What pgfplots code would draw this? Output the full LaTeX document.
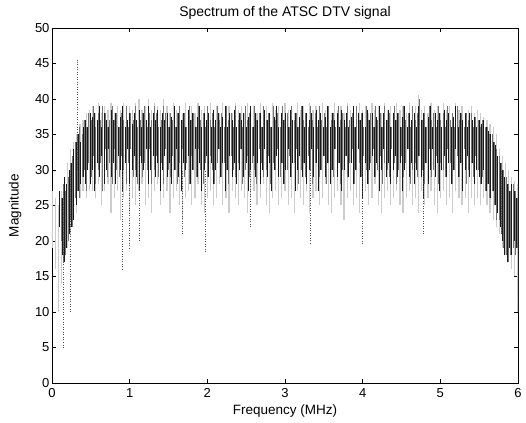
\documentclass[border=0pt]{standalone}
\usepackage{fontspec}
\setmainfont{Liberation Sans}
\usepackage{pgfplots}
\pgfplotsset{compat=1.18}
\usepackage{pgfplotstable}

\pgfplotstableread{
x lo hi
0.00 19 27
0.04 16 26
0.08 10 25
0.12 14 27
0.16 17 29
0.20 19 31
0.24 21 33
0.28 23 34
0.32 24 35
0.36 26 36.5
0.40 27 37
0.44 26 38
0.48 27 38.5
0.52 27 39
0.56 26 38
0.60 28 39.5
0.64 25 38
0.68 27 39
0.72 28 38.5
0.76 24 39.5
0.80 26 38
0.84 27 39
0.88 23 38.5
0.92 26 39.5
0.96 27 38
1.00 24 39
1.04 26 38.5
1.08 25 39.5
1.12 27 40
1.16 28 38.5
1.20 25 39
1.24 26 40
1.28 24 38.5
1.32 27 39.5
1.36 28 39
1.40 25 38.5
1.44 26 40
1.48 27 39
1.52 24 38
1.56 26 39.5
1.60 27 38.5
1.64 25 39
1.68 23 38
1.72 26 39.5
1.76 27 38.5
1.80 25 39
1.84 26 38
1.88 28 39.5
1.92 25 38.5
1.96 24 39
2.00 26 38
2.04 27 39.5
2.08 25 38.5
2.12 26 39
2.16 28 38
2.20 25 39.5
2.24 26 38.5
2.28 24 39
2.32 27 38
2.36 26 39.5
2.40 25 38.5
2.44 27 39
2.48 26 38
2.52 24 39.5
2.56 26 38.5
2.60 27 39
2.64 25 38
2.68 26 39.5
2.72 28 38.5
2.76 25 39
2.80 24 38
2.84 26 39.5
2.88 27 38.5
2.92 25 39
2.96 26 38
3.00 27 39.5
3.04 25 38.5
3.08 26 39
3.12 24 38
3.16 27 39.5
3.20 26 38.5
3.24 25 39
3.28 27 38
3.32 24 39.5
3.36 26 38.5
3.40 27 39
3.44 25 38
3.48 26 39.5
3.52 28 38.5
3.56 25 39
3.60 24 38
3.64 26 39.5
3.68 27 38.5
3.72 25 39
3.76 23 38
3.80 26 39.5
3.84 27 38.5
3.88 25 39
3.92 26 38
3.96 24 39.5
4.00 26 38.5
4.04 27 39
4.08 25 38
4.12 26 39.5
4.16 28 38.5
4.20 25 39
4.24 24 38
4.28 26 39.5
4.32 27 38.5
4.36 25 39
4.40 26 38
4.44 27 39.5
4.48 25 38.5
4.52 24 39
4.56 26 38
4.60 27 39.5
4.64 25 38.5
4.68 26 39
4.72 24 40.5
4.76 27 38.5
4.80 25 39
4.84 26 38
4.88 27 39.5
4.92 25 38.5
4.96 24 39
5.00 26 38
5.04 27 39.5
5.08 25 38.5
5.12 26 39
5.16 24 38
5.20 27 39.5
5.24 26 38.5
5.28 25 39
5.32 26 38
5.36 24 38.5
5.40 26 39
5.44 25 38
5.48 26 38.5
5.52 25 38
5.56 26 37.5
5.60 25 37
5.64 24 36.5
5.68 23 36
5.72 22 35
5.76 21 33
5.80 19 32
5.84 18 31
5.88 17 30
5.92 16 29
5.96 15 28.5
6.00 10 28
}\graylayer

\pgfplotstableread{
x lo hi
0.10 22 27
0.13 18 26
0.16 17 29
0.19 19 28
0.22 21 30
0.25 22 31
0.28 23 33
0.31 25 34
0.34 27 35
0.37 28 34
0.40 29 36
0.43 28 37
0.46 30 36
0.49 28 38
0.52 30 37.5
0.55 27 38
0.58 31 37
0.61 29 39
0.64 32 36
0.67 28 38
0.70 30 37
0.73 33 36
0.76 29 38.5
0.79 31 37
0.82 28 38
0.85 32 36
0.88 30 37.5
0.91 27 39
0.94 31 36
0.97 33 37
1.00 28 38
1.03 30 36.5
1.06 32 38
1.09 29 37
1.12 27 38.5
1.15 31 36
1.18 30 38
1.21 33 37
1.24 28 39
1.27 30 36
1.30 32 38
1.33 29 37
1.36 31 38.5
1.39 27 36
1.42 30 38
1.45 32 37
1.48 29 38
1.51 31 36
1.54 28 37.5
1.57 30 39
1.60 33 36
1.63 29 38
1.66 27 37
1.69 31 38
1.72 30 36
1.75 32 38.5
1.78 28 37
1.81 30 38
1.84 33 36
1.87 29 37.5
1.90 31 39
1.93 27 36
1.96 30 38
1.99 32 37
2.02 29 38
2.05 31 36
2.08 28 38.5
2.11 30 37
2.14 33 38
2.17 29 36
2.20 31 37.5
2.23 27 39
2.26 30 36
2.29 32 38
2.32 29 37
2.35 31 38.5
2.38 28 36
2.41 30 38
2.44 33 37
2.47 29 38
2.50 31 36
2.53 27 37.5
2.56 30 39
2.59 32 36
2.62 29 38
2.65 31 37
2.68 28 38
2.71 30 36
2.74 33 38.5
2.77 29 37
2.80 31 38
2.83 27 36
2.86 30 37.5
2.89 32 39
2.92 29 36
2.95 31 38
2.98 28 37
3.01 30 38
3.04 33 36
3.07 29 38.5
3.10 31 37
3.13 27 38
3.16 30 36
3.19 32 37.5
3.22 29 39
3.25 31 36
3.28 28 38
3.31 30 37
3.34 33 38
3.37 29 36
3.40 31 38.5
3.43 27 37
3.46 30 38
3.49 32 36
3.52 29 37.5
3.55 31 39
3.58 28 36
3.61 30 38
3.64 33 37
3.67 29 38
3.70 31 36
3.73 27 38.5
3.76 30 37
3.79 32 38
3.82 29 36
3.85 31 37.5
3.88 28 39
3.91 30 36
3.94 33 38
3.97 29 37
4.00 26 38
4.03 31 36
4.06 28 38.5
4.09 30 37
4.12 32 38
4.15 29 36
4.18 31 37.5
4.21 27 39
4.24 30 36
4.27 33 38
4.30 29 37
4.33 31 38.5
4.36 28 36
4.39 30 38
4.42 32 37
4.45 29 38
4.48 31 36
4.51 27 37.5
4.54 30 39
4.57 33 36
4.60 29 38
4.63 31 37
4.66 28 38
4.69 30 36
4.72 32 39
4.75 29 37
4.78 26 38
4.81 31 36
4.84 28 37.5
4.87 30 39
4.90 33 36
4.93 29 38
4.96 31 37
4.99 27 38
5.02 30 36
5.05 32 38.5
5.08 29 37
5.11 31 38
5.14 28 36
5.17 30 37.5
5.20 33 39
5.23 29 36
5.26 31 38
5.29 27 37
5.32 30 38
5.35 32 36
5.38 29 38
5.41 31 37
5.44 28 37.5
5.47 30 36
5.50 29 37
5.53 28 36.5
5.56 30 37
5.59 27 36
5.62 28 35.5
5.65 26 35
5.68 27 34
5.71 25 33.5
5.74 24 32
5.77 22 31
5.80 20 30
5.83 18 29
5.86 17 28
5.89 19 27
5.92 18 28
5.95 20 27
5.98 19 26
}\blacklayer

\pgfplotstableread{
x lo hi
0.115 20 26
0.145 17 28
0.175 18 27
0.205 20 29
0.235 23 31
0.265 22 32
0.295 26 34
0.325 27 35
0.355 26 36
0.385 29 35
0.415 30 37
0.445 27 36
0.475 31 38
0.505 29 37
0.535 32 39
0.565 28 36
0.595 30 38
0.625 31 37
0.655 27 39
0.685 33 38
0.715 29 36
0.745 31 37
0.775 28 39
0.805 33 37
0.835 30 38
0.865 29 36
0.895 32 38
0.925 30 37
0.955 28 39
0.985 31 36
1.015 33 38
1.045 29 37
1.075 30 39
1.105 28 36
1.135 32 37
1.165 29 38
1.195 31 39
1.225 30 36
1.255 33 38
1.285 28 37
1.315 30 39
1.345 32 38
1.375 29 36
1.405 31 37
1.435 28 39
1.465 33 38
1.495 30 36
1.525 29 38
1.555 32 37
1.585 30 36
1.615 28 38
1.645 31 39
1.675 33 37
1.705 29 38
1.735 31 36
1.765 28 39
1.795 32 37
1.825 30 38
1.855 29 36
1.885 33 39
1.915 30 37
1.945 28 38
1.975 31 36
2.005 29 39
2.035 32 37
2.065 30 38
2.095 28 36
2.125 31 39
2.155 33 37
2.185 29 38
2.215 31 36
2.245 30 39
2.275 28 37
2.305 32 38
2.335 30 36
2.365 29 39
2.395 31 37
2.425 33 38
2.455 28 36
2.485 30 39
2.515 32 37
2.545 29 38
2.575 31 36
2.605 30 39
2.635 28 37
2.665 33 38
2.695 31 36
2.725 29 39
2.755 30 37
2.785 32 38
2.815 28 36
2.845 31 39
2.875 30 37
2.905 33 38
2.935 29 36
2.965 31 39
2.995 28 37
3.025 30 38
3.055 32 36
3.085 29 39
3.115 31 37
3.145 33 38
3.175 28 36
3.205 30 39
3.235 31 37
3.265 29 38
3.295 32 36
3.325 30 39
3.355 28 37
3.385 31 38
3.415 33 36
3.445 29 39
3.475 30 37
3.505 32 38
3.535 28 36
3.565 31 39
3.595 30 37
3.625 29 38
3.655 33 36
3.685 31 39
3.715 28 37
3.745 30 38
3.775 32 36
3.805 29 39
3.835 31 37
3.865 33 38
3.895 28 36
3.925 30 39
3.955 31 37
3.985 29 38
4.015 32 36
4.045 30 39
4.075 28 37
4.105 31 38
4.135 33 36
4.165 29 39
4.195 30 37
4.225 32 38
4.255 28 36
4.285 31 39
4.315 30 37
4.345 29 38
4.375 33 36
4.405 31 39
4.435 28 37
4.465 30 38
4.495 32 36
4.525 29 39
4.555 31 37
4.585 33 38
4.615 28 36
4.645 30 39
4.675 31 37
4.705 29 38
4.735 32 40
4.765 30 37
4.795 28 38
4.825 31 36
4.855 33 39
4.885 29 37
4.915 30 38
4.945 32 36
4.975 28 39
5.005 31 37
5.035 30 38
5.065 29 36
5.095 33 39
5.125 31 37
5.155 28 38
5.185 30 36
5.215 32 39
5.245 29 37
5.275 31 38
5.305 33 36
5.335 28 38
5.365 30 37
5.395 31 38
5.425 29 36
5.455 32 37.5
5.485 30 37
5.515 28 36
5.545 29 37
5.575 27 36
5.605 28 36
5.635 26 35
5.665 27 35
5.695 25 34
5.725 23 33
5.755 23 32
5.785 21 31
5.815 19 30
5.845 18 29
5.875 17 28
5.905 18 27
5.935 19 28
5.965 18 27
5.995 19 26
}\blacklayertwo

\pgfplotstableread{
x lo hi
0.14 5 27
0.23 10 30
0.32 30 45.5
0.91 16 30
1.00 19 28
1.12 20 28
1.68 21 30
1.97 18.5 30
2.55 22 30
3.32 19.7 30
3.99 19.6 30
4.78 21 30
5.78 21 30
6.00 8 28
}\spikes

\begin{document}
\begin{tikzpicture}
\path[use as bounding box] (-52pt,-39pt) rectangle (474pt,383pt);
\begin{axis}[
  scale only axis,
  width=466pt, height=355pt,
  xmin=0, xmax=6, ymin=0, ymax=50,
  xtick={0,1,2,3,4,5,6},
  ytick={0,5,10,15,20,25,30,35,40,45,50},
  tick align=inside,
  xtick pos=both, ytick pos=both,
  major tick length=4pt,
  axis line style={black, line width=0.6pt},
  tick style={black, line width=0.5pt},
  /pgf/number format/assume math mode=true,
  tick label style={font=\fontsize{13}{15}\selectfont},
  xticklabel style={yshift=-2pt},
  yticklabel style={xshift=1pt},
  label style={font=\fontsize{13.5}{15}\selectfont},
  every axis title shift=0pt,
  title={Spectrum of the ATSC DTV signal},
  title style={font=\fontsize{14}{16}\selectfont, at={(axis description cs:0.5,1.031)}, anchor=base},
  xlabel={Frequency (MHz)},
  ylabel={Magnitude},
  xlabel style={at={(axis description cs:0.5,-0.079)}, anchor=center},
  ylabel style={at={(axis description cs:-0.079,0.5)}, anchor=center, rotate=0},
  error bars/error mark=none,
  clip=true,
]
\addplot[draw=none, mark=none, forget plot,
  error bars/.cd, y dir=plus, y explicit,
  error bar style={gray!40, line width=1.2pt}]
  table[x=x, y=lo, y error expr=\thisrow{hi}-\thisrow{lo}] {\graylayer};
\addplot[draw=none, mark=none, forget plot,
  error bars/.cd, y dir=plus, y explicit,
  error bar style={black!90, line width=0.8pt}]
  table[x=x, y=lo, y error expr=\thisrow{hi}-\thisrow{lo}] {\blacklayer};
\addplot[draw=none, mark=none, forget plot,
  error bars/.cd, y dir=plus, y explicit,
  error bar style={black!55, line width=0.8pt}]
  table[x=x, y=lo, y error expr=\thisrow{hi}-\thisrow{lo}] {\blacklayertwo};
\addplot[draw=none, mark=none, forget plot,
  error bars/.cd, y dir=plus, y explicit,
  error bar style={black!70, line width=0.5pt, dotted}]
  table[x=x, y=lo, y error expr=\thisrow{hi}-\thisrow{lo}] {\spikes};
\end{axis}
\end{tikzpicture}
\end{document}
